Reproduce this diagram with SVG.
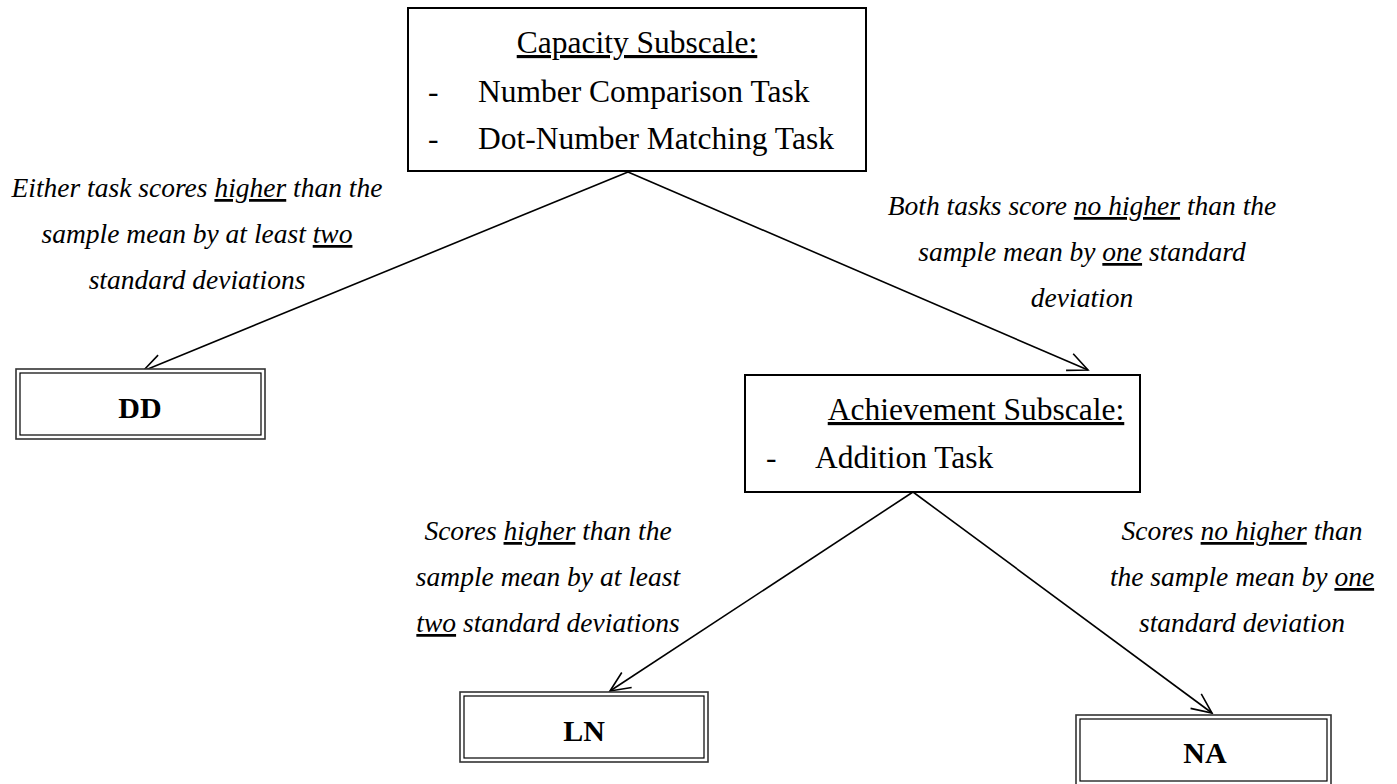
<svg xmlns="http://www.w3.org/2000/svg" width="1397" height="784" viewBox="0 0 1397 784">
<style>
.box{fill:#fff;stroke:#000;stroke-width:2}
.dbo{fill:#fff;stroke:#333;stroke-width:1.6}
.dbi{fill:none;stroke:#000;stroke-width:1.2}
.t{font-family:"Liberation Serif","Times New Roman",serif;font-size:31.5px;fill:#000}
.b{font-family:"Liberation Serif","Times New Roman",serif;font-size:30px;font-weight:bold;fill:#000}
.l{font-family:"Liberation Serif","Times New Roman",serif;font-size:27.5px;font-style:italic;fill:#000}
.u{text-decoration:underline}
.c{fill:none;stroke:#000;stroke-width:1.6}
</style>
<defs>
<marker id="arr" markerUnits="userSpaceOnUse" viewBox="-22 -11 24 22" markerWidth="24" markerHeight="22" refX="0" refY="0" orient="auto">
<path d="M-20,-9 L0,0 L-20,9" fill="none" stroke="#000" stroke-width="1.6"/>
</marker>
</defs>
<rect width="1397" height="784" fill="#fff"/>
<g id="connectors">
<line class="c" x1="628" y1="172" x2="143" y2="371" marker-end="url(#arr)"/>
<line class="c" x1="628" y1="172" x2="1088" y2="370" marker-end="url(#arr)"/>
<line class="c" x1="913" y1="492" x2="610" y2="691" marker-end="url(#arr)"/>
<line class="c" x1="913" y1="492" x2="1212" y2="713" marker-end="url(#arr)"/>
</g>
<g id="capacity">
<rect class="box" x="408" y="8" width="458" height="163"/>
<text class="t u" x="637" y="53" text-anchor="middle">Capacity Subscale:</text>
<text class="t" x="428" y="102">-</text>
<text class="t" x="478" y="102">Number Comparison Task</text>
<text class="t" x="428" y="149">-</text>
<text class="t" x="478" y="149">Dot-Number Matching Task</text>
</g>
<g id="achievement">
<rect class="box" x="745" y="375" width="395" height="117"/>
<text class="t u" x="976" y="420" text-anchor="middle">Achievement Subscale:</text>
<text class="t" x="766" y="468">-</text>
<text class="t" x="815" y="468">Addition Task</text>
</g>
<g id="dd">
<rect class="dbo" x="16" y="369" width="249" height="70"/>
<rect class="dbi" x="20" y="373" width="241" height="62"/>
<text class="b" x="140" y="418" text-anchor="middle">DD</text>
</g>
<g id="ln">
<rect class="dbo" x="460" y="692" width="248" height="70"/>
<rect class="dbi" x="464" y="696" width="240" height="62"/>
<text class="b" x="584" y="741" text-anchor="middle">LN</text>
</g>
<g id="na">
<rect class="dbo" x="1076" y="715" width="255" height="70"/>
<rect class="dbi" x="1080" y="719" width="247" height="62"/>
<text class="b" x="1205" y="763" text-anchor="middle">NA</text>
</g>
<g id="label-dd">
<text class="l" x="197" y="197" text-anchor="middle">Either task scores <tspan class="u">higher</tspan> than the</text>
<text class="l" x="197" y="243" text-anchor="middle">sample mean by at least <tspan class="u">two</tspan></text>
<text class="l" x="197" y="289" text-anchor="middle">standard deviations</text>
</g>
<g id="label-ach">
<text class="l" x="1082" y="215" text-anchor="middle">Both tasks score <tspan class="u">no higher</tspan> than the</text>
<text class="l" x="1082" y="261" text-anchor="middle">sample mean by <tspan class="u">one</tspan> standard</text>
<text class="l" x="1082" y="307" text-anchor="middle">deviation</text>
</g>
<g id="label-ln">
<text class="l" x="548" y="540" text-anchor="middle">Scores <tspan class="u">higher</tspan> than the</text>
<text class="l" x="548" y="586" text-anchor="middle">sample mean by at least</text>
<text class="l" x="548" y="632" text-anchor="middle"><tspan class="u">two</tspan> standard deviations</text>
</g>
<g id="label-na">
<text class="l" x="1242" y="540" text-anchor="middle">Scores <tspan class="u">no higher</tspan> than</text>
<text class="l" x="1242" y="586" text-anchor="middle">the sample mean by <tspan class="u">one</tspan></text>
<text class="l" x="1242" y="632" text-anchor="middle">standard deviation</text>
</g>
</svg>
